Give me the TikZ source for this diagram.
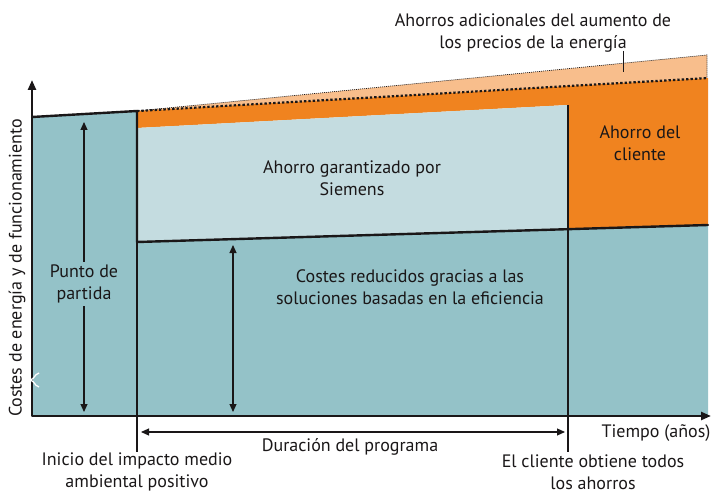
\documentclass[tikz,border=0pt]{standalone}
\usepackage{fontspec}
\setmainfont{PT Sans}
\usetikzlibrary{arrows.meta}
\definecolor{cteal}{HTML}{94C2C8}
\definecolor{clight}{HTML}{C4DCE0}
\definecolor{corange}{HTML}{F0831F}
\definecolor{cpeach}{HTML}{F8BE8C}
\definecolor{cink}{HTML}{1A1718}
\begin{document}
\begin{tikzpicture}[x=1pt,y=-1pt,
  txt/.style={font=\fontsize{18}{22}\selectfont, align=center, inner sep=0pt, text=cink},
  heavy/.style={draw=cink, line width=2.4pt, line cap=round, line join=round},
  fine/.style={draw=cink, line width=1.1pt},
  dimarrow/.style={fine, {Triangle[length=8pt,width=7pt]}-{Triangle[length=8pt,width=7pt]}}]
\useasboundingbox (0,0) rectangle (711,494);
% key points
\coordinate (O) at (32,416);
\coordinate (Ytop) at (32,80);
\coordinate (Xend) at (711,416);
\coordinate (TL) at (32,117);
\coordinate (S) at (137,111);
\coordinate (Sb) at (137,242);
\coordinate (Sl) at (137,128);
\coordinate (Stick) at (137,452);
\coordinate (E) at (568,105);
\coordinate (Eb) at (568,229);
\coordinate (Etick) at (568,452);
\coordinate (Rb) at (708,225);
\coordinate (Rd) at (708,78);
\coordinate (Rp) at (707,55);
% fills
\fill[cteal] (TL) -- (S) -- (Sb) -- (Rb) -- (708,416) -- (O) -- cycle;
\fill[cpeach] (S) -- (Rp) -- (707,78) -- cycle;
\fill[corange] (S) -- (Rd) -- (Rb) -- (Eb) -- (E) -- (Sl) -- cycle;
\fill[clight] (Sl) -- (E) -- (Eb) -- (Sb) -- cycle;
% dotted boundaries
\draw[draw=cink, line width=0.7pt, dash pattern=on 1pt off 1pt] (S) -- (Rp) -- (707,78);
\draw[draw=cink, line width=2.2pt, dash pattern=on 2.4pt off 2pt] (S) -- (Rd);
% vertical markers
\draw[fine] (Sb) -- (Stick);
\draw[fine] (E) -- (Etick);
% box outlines
\draw[heavy] (TL) -- (S) -- (Sb) -- (Rb);
% axes
\draw[heavy, {Triangle[length=10pt,width=8pt]}-{Triangle[length=10pt,width=8pt]}, line cap=butt] (Ytop) -- (O) -- (Xend);
% axis break
\draw[white, line width=1.3pt] (39,373) .. controls (33,375) and (36,379) .. (29,380) .. controls (36,381) and (33,385) .. (39,387);
% pointer to top label
\coordinate (P1) at (623,51);
\coordinate (P2) at (623,72);
\draw[fine, line width=0.9pt] (P1) -- (P2);
% dimension arrows
\coordinate (A1t) at (84,122);
\coordinate (A1b) at (84,412);
\coordinate (A2t) at (233,245);
\coordinate (A2b) at (233,412);
\coordinate (Dl) at (141,432);
\coordinate (Dr) at (565,432);
\draw[dimarrow] (A1t) -- (A1b);
\draw[dimarrow] (A2t) -- (A2b);
\draw[dimarrow] (Dl) -- (Dr);
% texts
\node[txt] (top) at (533,33) {Ahorros adicionales del aumento de\\los precios de la energía};
\node[txt] (garant) at (352,178) {Ahorro garantizado por\\Siemens};
\node[txt] (cliente) at (640,143) {Ahorro del\\cliente};
\node[txt] (costes) at (410,287) {Costes reducidos gracias a las\\soluciones basadas en la eficiencia};
\node[txt, fill=cteal, inner xsep=2pt, inner ysep=3pt] (punto) at (84,284) {Punto de\\partida};
\node[txt] (dur) at (350,447) {Duración del programa};
\node[txt] (tiempo) at (656,433) {Tiempo (años)};
\node[txt] (inicio) at (137,472) {Inicio del impacto medio\\ambiental positivo};
\node[txt] (todos) at (593,472) {El cliente obtiene todos\\los ahorros};
\node[txt, rotate=90] (ylab) at (17,268) {Costes de energía y de funcionamiento};
\end{tikzpicture}
\end{document}
